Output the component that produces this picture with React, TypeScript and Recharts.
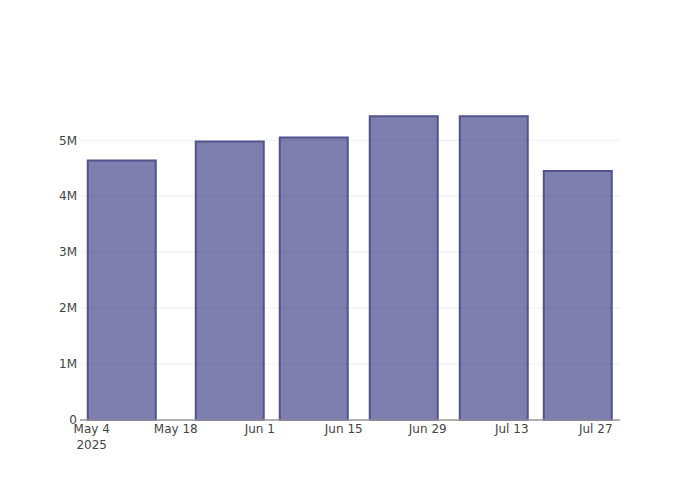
import React from 'react';
import { BarChart, Bar, XAxis, YAxis, CartesianGrid } from 'recharts';

// bar dates and values
const barDates = ['2025-05-09', '2025-05-27', '2025-06-10', '2025-06-25', '2025-07-10', '2025-07-24'];
const barValues = [4640000, 4980000, 5050000, 5430000, 5430000, 4450000];

// x-axis ticks (every two weeks) and visible range
const tickDates = ['2025-05-04', '2025-05-18', '2025-06-01', '2025-06-15', '2025-06-29', '2025-07-13', '2025-07-27'];
const tickLabels = ['May 4', 'May 18', 'Jun 1', 'Jun 15', 'Jun 29', 'Jul 13', 'Jul 27'];
const xRange = ['2025-05-02T01:00:00Z', '2025-07-31T01:00:00Z'];

const yTicks = [0, 1000000, 2000000, 3000000, 4000000, 5000000];
const yMax = 5720000;

const toMs = (d: string) => new Date(d.length === 10 ? d + 'T00:00:00Z' : d).getTime();

const data = barDates.map((d, i) => ({ t: toMs(d), value: barValues[i] }));
const tickMs = tickDates.map(toMs);

const FONT = '"DejaVu Sans", Verdana, sans-serif';

const DateTick = ({ x, y, payload }: any) => {
  const idx = tickMs.indexOf(payload.value);
  const label = idx >= 0 ? tickLabels[idx] : '';
  return (
    <text x={x} y={y + 13} textAnchor="middle" fill="#444" fontSize={12} fontFamily={FONT}>
      <tspan x={x}>{label}</tspan>
      {idx === 0 && (
        <tspan x={x} dy={16}>
          2025
        </tspan>
      )}
    </text>
  );
};

const formatY = (v: number) => (v === 0 ? '0' : `${v / 1000000}M`);

// grid only at the y tick values (no line at the top edge)
const gridLines = ({ offset }: any) =>
  yTicks.map((v) => offset.top + offset.height * (1 - v / yMax));

export default function App() {
  return (
    <div style={{ position: 'absolute', left: 0, top: 0, width: 700, height: 500, background: '#fff' }}>
      <BarChart
        width={700}
        height={500}
        data={data}
        margin={{ top: 100, right: 80, bottom: 40, left: 40 }}
      >
        <CartesianGrid
          vertical={false}
          stroke="#eee"
          strokeWidth={1}
          horizontalCoordinatesGenerator={gridLines}
        />
        <XAxis
          dataKey="t"
          type="number"
          scale="linear"
          domain={[toMs(xRange[0]), toMs(xRange[1])]}
          allowDataOverflow
          ticks={tickMs}
          interval={0}
          tick={<DateTick />}
          tickLine={false}
          tickSize={0}
          tickMargin={0}
          height={40}
          axisLine={{ stroke: '#999', strokeWidth: 1.5 }}
        />
        <YAxis
          type="number"
          domain={[0, yMax]}
          ticks={yTicks}
          interval={0}
          tickFormatter={formatY}
          axisLine={false}
          tickLine={false}
          tickSize={0}
          tickMargin={3}
          width={40}
          tick={{ fill: '#444', fontSize: 12, fontFamily: FONT }}
        />
        <Bar
          dataKey="value"
          barSize={68}
          fill="#191970"
          fillOpacity={0.56}
          stroke="#52528f"
          strokeWidth={2}
          isAnimationActive={false}
        />
      </BarChart>
    </div>
  );
}
